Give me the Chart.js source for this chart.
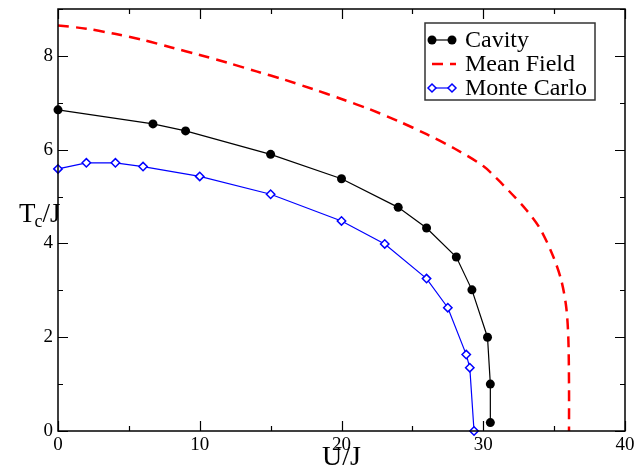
<!DOCTYPE html>
<html>
<head>
<meta charset="utf-8">
<script src="https://cdn.jsdelivr.net/npm/chart.js@4/dist/chart.umd.min.js"></script>
<style>
html,body{margin:0;padding:0;background:#fff;}
#wrap{width:634px;height:474px;position:relative;}
</style>
</head>
<body>
<div id="wrap"><canvas id="c" width="634" height="474"></canvas></div>
<script>
// ---- data ----
const cavityU = [0, 6.7, 9, 15, 20, 24, 26, 28.1, 29.2, 30.3, 30.5, 30.5];
const cavityT = [6.85, 6.55, 6.40, 5.90, 5.38, 4.77, 4.33, 3.71, 3.01, 2.00, 1.00, 0.18];

const meanFieldU = [0, 2, 4, 6, 8, 10, 12, 14, 16, 18, 20, 22, 24, 26, 28, 30, 31, 32, 33, 34, 34.9, 35.5, 35.85, 36.0, 36.05, 36.05];
const meanFieldT = [8.65, 8.58, 8.47, 8.34, 8.18, 8.02, 7.85, 7.67, 7.49, 7.29, 7.08, 6.86, 6.61, 6.33, 6.02, 5.65, 5.37, 5.06, 4.73, 4.32, 3.75, 3.22, 2.65, 2.0, 1.0, 0];

const monteCarloU = [0, 2, 4.05, 6, 10, 15, 20, 23.05, 26, 27.5, 28.8, 29.05, 29.35];
const monteCarloT = [5.59, 5.72, 5.72, 5.64, 5.43, 5.05, 4.48, 3.99, 3.25, 2.63, 1.63, 1.35, 0];

const xTicks = [0, 10, 20, 30, 40];
const yTicks = [0, 2, 4, 6, 8];
const seriesNames = ['Cavity', 'Mean Field', 'Monte Carlo'];

function pts(xs, ys){ return xs.map((x,i)=>({x:x, y:ys[i]})); }

const SERIF = '"Liberation Serif", "DejaVu Serif", serif';

const frameTicks = {
  id: 'frameTicks',
  afterDraw(chart){
    const ctx = chart.ctx, a = chart.chartArea;
    const xs = chart.scales.x, ys = chart.scales.y;
    ctx.save();
    ctx.strokeStyle = '#000';
    ctx.lineWidth = 1.5;
    ctx.strokeRect(a.left, a.top, a.right - a.left, a.bottom - a.top);
    ctx.lineWidth = 1.2;
    ctx.beginPath();
    for (let v = 0; v <= 40; v += 5){
      const p = Math.round(xs.getPixelForValue(v)) + 0.5;
      const len = (v % 10 === 0) ? 10 : 5;
      ctx.moveTo(p, a.bottom); ctx.lineTo(p, a.bottom - len);
      ctx.moveTo(p, a.top); ctx.lineTo(p, a.top + len);
    }
    for (let v = 0; v <= 9; v += 1){
      const p = Math.round(ys.getPixelForValue(v)) + 0.5;
      const len = (v % 2 === 0) ? 10 : 5;
      ctx.moveTo(a.left, p); ctx.lineTo(a.left + len, p);
      ctx.moveTo(a.right, p); ctx.lineTo(a.right - len, p);
    }
    ctx.stroke();

    // y-axis title T_c/J
    ctx.fillStyle = '#000';
    ctx.textBaseline = 'alphabetic';
    ctx.textAlign = 'left';
    let x0 = 19, yb = 222;
    ctx.font = '27px ' + SERIF;
    ctx.fillText('T', x0, yb);
    let w = ctx.measureText('T').width;
    ctx.font = '18px ' + SERIF;
    ctx.fillText('c', x0 + w - 1, yb + 5);
    let w2 = ctx.measureText('c').width;
    ctx.font = '27px ' + SERIF;
    ctx.fillText('/J', x0 + w - 1 + w2, yb);

    // legend
    const lx = 425, ly = 23, lw = 170, lh = 77;
    ctx.fillStyle = '#fff';
    ctx.fillRect(lx, ly, lw, lh);
    ctx.strokeStyle = '#333';
    ctx.lineWidth = 1.5;
    ctx.strokeRect(lx, ly, lw, lh);
    const rows = [40, 64, 88];
    const sx0 = 432, sx1 = 452;
    // Cavity
    ctx.strokeStyle = '#000'; ctx.lineWidth = 1.2; ctx.setLineDash([]);
    ctx.beginPath(); ctx.moveTo(sx0, rows[0]); ctx.lineTo(sx1, rows[0]); ctx.stroke();
    ctx.fillStyle = '#000';
    [sx0, sx1].forEach(px => { ctx.beginPath(); ctx.arc(px, rows[0], 4.5, 0, Math.PI*2); ctx.fill(); });
    // Mean Field
    ctx.strokeStyle = '#ff0000'; ctx.lineWidth = 2.5; ctx.setLineDash([11, 7]);
    ctx.beginPath(); ctx.moveTo(sx0, rows[1]); ctx.lineTo(sx1 + 4, rows[1]); ctx.stroke();
    ctx.setLineDash([]);
    // Monte Carlo
    ctx.strokeStyle = '#0000ff'; ctx.lineWidth = 1.2;
    ctx.beginPath(); ctx.moveTo(sx0, rows[2]); ctx.lineTo(sx1, rows[2]); ctx.stroke();
    [sx0, sx1].forEach(px => {
      ctx.beginPath();
      ctx.moveTo(px, rows[2]-4); ctx.lineTo(px+4, rows[2]); ctx.lineTo(px, rows[2]+4); ctx.lineTo(px-4, rows[2]); ctx.closePath();
      ctx.fillStyle = '#fff'; ctx.fill(); ctx.lineWidth = 1.5; ctx.stroke();
    });
    ctx.fillStyle = '#000';
    ctx.font = '24px ' + SERIF;
    ctx.textBaseline = 'middle';
    seriesNames.forEach((n, i) => ctx.fillText(n, 465, rows[i] + 1));
    ctx.restore();
  }
};

new Chart(document.getElementById('c'), {
  type: 'scatter',
  data: {
    datasets: [
      { label: seriesNames[0], data: pts(cavityU, cavityT), showLine: true,
        borderColor: '#000', backgroundColor: '#000', borderWidth: 1.2,
        pointRadius: 4.5, pointHoverRadius: 4.5, pointBorderWidth: 0, tension: 0, clip: false, order: 2 },
      { label: seriesNames[1], data: pts(meanFieldU, meanFieldT), showLine: true,
        borderColor: '#ff0000', backgroundColor: '#ff0000', borderWidth: 2.5, borderDash: [11, 7],
        pointRadius: 0, tension: 0.3, clip: false, order: 3 },
      { label: seriesNames[2], data: pts(monteCarloU, monteCarloT), showLine: true,
        borderColor: '#0000ff', backgroundColor: '#ffffff', borderWidth: 1.2,
        pointStyle: 'rectRot', pointRadius: 4.2, pointHoverRadius: 4.2, pointBorderWidth: 1.5,
        tension: 0, clip: false, order: 1 }
    ]
  },
  options: {
    responsive: false,
    animation: false,
    events: [],
    layout: { padding: { top: 9, right: 9, left: 0, bottom: 0 } },
    plugins: { legend: { display: false }, tooltip: { enabled: false }, title: { display: false } },
    scales: {
      x: {
        type: 'linear', min: 0, max: 40,
        afterBuildTicks: s => { s.ticks = xTicks.map(v => ({ value: v })); },
        afterFit: s => { s.height = 43; s.paddingLeft = 0; s.paddingRight = 0; },
        grid: { display: false, drawTicks: false },
        border: { display: false },
        ticks: { color: '#000', font: { family: SERIF, size: 19 }, padding: 3, maxRotation: 0 },
        title: { display: true, text: 'U/J', color: '#000', font: { family: SERIF, size: 28 }, padding: { top: 0, bottom: 0 } }
      },
      y: {
        type: 'linear', min: 0, max: 9,
        afterBuildTicks: s => { s.ticks = yTicks.map(v => ({ value: v })); },
        afterFit: s => { s.width = 58; s.paddingTop = 0; s.paddingBottom = 0; },
        grid: { display: false, drawTicks: false },
        border: { display: false },
        ticks: { color: '#000', font: { family: SERIF, size: 19 }, padding: 5 }
      }
    }
  },
  plugins: [frameTicks]
});
</script>
</body>
</html>
